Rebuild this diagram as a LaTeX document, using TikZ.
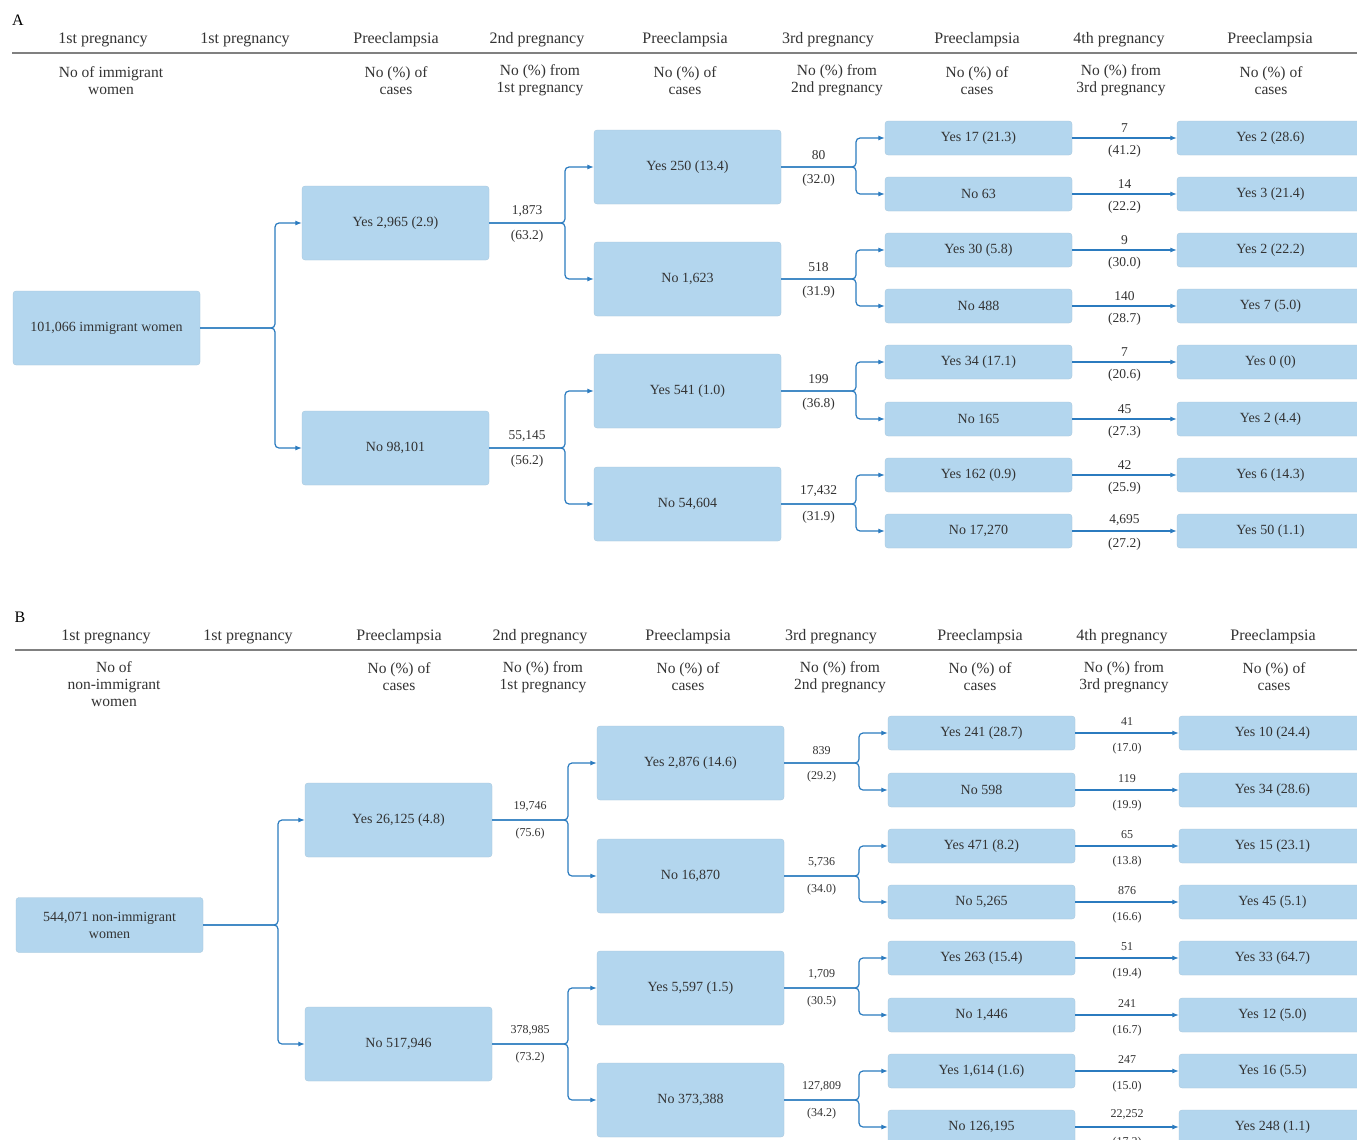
\documentclass[tikz,border=0pt]{standalone}
\usepackage{fontspec}
\setmainfont{Liberation Serif}
\usetikzlibrary{arrows.meta}
\definecolor{boxblue}{HTML}{B3D6EE}
\definecolor{lineblue}{HTML}{2B7BBF}
\definecolor{txtgray}{HTML}{333333}
\definecolor{rulegray}{HTML}{808080}
\tikzset{
  box/.style={fill=boxblue, draw=boxblue!92!black, line width=0.3pt, rounded corners=3pt, minimum width=187pt, minimum height=74pt, inner sep=0pt, align=center, text=txtgray, font=\fontsize{14}{17}\selectfont},
  slim/.style={box, minimum height=34pt},
  head/.style={text=txtgray, font=\fontsize{16}{18}\selectfont},
  sub/.style={text=txtgray, align=center, font=\fontsize{15.5}{17}\selectfont},
  num/.style={text=txtgray, inner sep=1pt, font=\fontsize{13.5}{15}\selectfont},
  numb/.style={num, font=\fontsize{12}{14}\selectfont},
  link/.style={draw=lineblue, line width=1.2pt, rounded corners=4pt, -{Latex[length=6.5pt,width=5pt]}},
}
\begin{document}
\begin{tikzpicture}[x=1pt, y=-1pt]
\useasboundingbox[fill=white] (0,0) rectangle (1357,1140);

% panel A
\node[font=\fontsize{16}{18}\selectfont] (lblA) at (18,20) {A};
\node[head] (hA1) at (103,40) {1st pregnancy};
\node[head] (hA2) at (245,40) {1st pregnancy};
\node[head] (hA3) at (396,40) {Preeclampsia};
\node[head] (hA4) at (537,40) {2nd pregnancy};
\node[head] (hA5) at (685,40) {Preeclampsia};
\node[head] (hA6) at (828,40) {3rd pregnancy};
\node[head] (hA7) at (977,40) {Preeclampsia};
\node[head] (hA8) at (1119,40) {4th pregnancy};
\node[head] (hA9) at (1270,40) {Preeclampsia};
\draw[rulegray, line width=1.2pt] (12,53) -- (1357,53);
\node[sub] (sA1) at (111,80.5) {No of immigrant\\women};
\node[sub] (sA3) at (396,80.5) {No (\%) of\\cases};
\node[sub] (sA4) at (540,80.5) {No (\%) from\\1st pregnancy};
\node[sub] (sA5) at (685,80.5) {No (\%) of\\cases};
\node[sub] (sA6) at (837,80.5) {No (\%) from\\2nd pregnancy};
\node[sub] (sA7) at (977,80.5) {No (\%) of\\cases};
\node[sub] (sA8) at (1121,80.5) {No (\%) from\\3rd pregnancy};
\node[sub] (sA9) at (1271,80.5) {No (\%) of\\cases};

\node[box] (a0) at (106.5,328) {101,066 immigrant women};
\node[box] (a1y) at (395.5,223) {Yes 2,965 (2.9)};
\node[box] (a1n) at (395.5,448) {No 98,101};
\node[box] (a2yy) at (687.5,167) {Yes 250 (13.4)};
\node[box] (a2yn) at (687.5,279) {No 1,623};
\node[box] (a2ny) at (687.5,391) {Yes 541 (1.0)};
\node[box] (a2nn) at (687.5,504) {No 54,604};

\coordinate (ja0) at (275,328);
\coordinate (ja1y) at (565,223);
\coordinate (ja1n) at (565,448);
\coordinate (ja2yy) at (856,167);
\coordinate (ja2yn) at (856,279);
\coordinate (ja2ny) at (856,391);
\coordinate (ja2nn) at (856,504);

\draw[link] (a0.east) -- (ja0) |- (a1y.west);
\draw[link] (a0.east) -- (ja0) |- (a1n.west);
\draw[link] (a1y.east) -- node[num,above=5pt]{1,873} node[num,below=6pt]{(63.2)} (ja1y) |- (a2yy.west);
\draw[link] (a1y.east) -- (ja1y) |- (a2yn.west);
\draw[link] (a1n.east) -- node[num,above=5pt]{55,145} node[num,below=6pt]{(56.2)} (ja1n) |- (a2ny.west);
\draw[link] (a1n.east) -- (ja1n) |- (a2nn.west);

\foreach \n/\yy/\lt/\ln/\lp/\rt in {
  1/138/{Yes 17 (21.3)}/7/{(41.2)}/{Yes 2 (28.6)},
  2/194/{No 63}/14/{(22.2)}/{Yes 3 (21.4)},
  3/250/{Yes 30 (5.8)}/9/{(30.0)}/{Yes 2 (22.2)},
  4/306/{No 488}/140/{(28.7)}/{Yes 7 (5.0)},
  5/362/{Yes 34 (17.1)}/7/{(20.6)}/{Yes 0 (0)},
  6/419/{No 165}/45/{(27.3)}/{Yes 2 (4.4)},
  7/475/{Yes 162 (0.9)}/42/{(25.9)}/{Yes 6 (14.3)},
  8/531/{No 17,270}/{4,695}/{(27.2)}/{Yes 50 (1.1)}}
{
  \node[slim] (a3\n) at (978.5,\yy) {\lt};
  \node[slim] (a4\n) at (1270.5,\yy) {\rt};
  \draw[link] (a3\n) -- node[num,above=4pt]{\ln} node[num,below=6pt]{\lp} (a4\n);
}

\draw[link] (a2yy.east) -- node[num,above=6pt]{80} node[num,below=6pt]{(32.0)} (ja2yy) |- (a31.west);
\draw[link] (a2yy.east) -- (ja2yy) |- (a32.west);
\draw[link] (a2yn.east) -- node[num,above=6pt]{518} node[num,below=6pt]{(31.9)} (ja2yn) |- (a33.west);
\draw[link] (a2yn.east) -- (ja2yn) |- (a34.west);
\draw[link] (a2ny.east) -- node[num,above=6pt]{199} node[num,below=6pt]{(36.8)} (ja2ny) |- (a35.west);
\draw[link] (a2ny.east) -- (ja2ny) |- (a36.west);
\draw[link] (a2nn.east) -- node[num,above=6pt]{17,432} node[num,below=6pt]{(31.9)} (ja2nn) |- (a37.west);
\draw[link] (a2nn.east) -- (ja2nn) |- (a38.west);

% panel B
\node[font=\fontsize{16}{18}\selectfont] (lblB) at (20,617) {B};
\node[head] (hB1) at (106,637) {1st pregnancy};
\node[head] (hB2) at (248,637) {1st pregnancy};
\node[head] (hB3) at (399,637) {Preeclampsia};
\node[head] (hB4) at (540,637) {2nd pregnancy};
\node[head] (hB5) at (688,637) {Preeclampsia};
\node[head] (hB6) at (831,637) {3rd pregnancy};
\node[head] (hB7) at (980,637) {Preeclampsia};
\node[head] (hB8) at (1122,637) {4th pregnancy};
\node[head] (hB9) at (1273,637) {Preeclampsia};
\draw[rulegray, line width=1.2pt] (15,650) -- (1357,650);
\node[sub] (sB1) at (114,684) {No of\\non-immigrant\\women};
\node[sub] (sB3) at (399,677) {No (\%) of\\cases};
\node[sub] (sB4) at (543,677) {No (\%) from\\1st pregnancy};
\node[sub] (sB5) at (688,677) {No (\%) of\\cases};
\node[sub] (sB6) at (840,677) {No (\%) from\\2nd pregnancy};
\node[sub] (sB7) at (980,677) {No (\%) of\\cases};
\node[sub] (sB8) at (1124,677) {No (\%) from\\3rd pregnancy};
\node[sub] (sB9) at (1274,677) {No (\%) of\\cases};

\node[box, minimum height=55pt] (b0) at (109.5,925) {544,071 non-immigrant\\women};
\node[box] (b1y) at (398.5,820) {Yes 26,125 (4.8)};
\node[box] (b1n) at (398.5,1044) {No 517,946};
\node[box] (b2yy) at (690.5,763) {Yes 2,876 (14.6)};
\node[box] (b2yn) at (690.5,876) {No 16,870};
\node[box] (b2ny) at (690.5,988) {Yes 5,597 (1.5)};
\node[box] (b2nn) at (690.5,1100) {No 373,388};

\coordinate (jb0) at (278,925);
\coordinate (jb1y) at (568,820);
\coordinate (jb1n) at (568,1044);
\coordinate (jb2yy) at (859,763);
\coordinate (jb2yn) at (859,876);
\coordinate (jb2ny) at (859,988);
\coordinate (jb2nn) at (859,1100);

\draw[link] (b0.east) -- (jb0) |- (b1y.west);
\draw[link] (b0.east) -- (jb0) |- (b1n.west);
\draw[link] (b1y.east) -- node[numb,above=7pt]{19,746} node[numb,below=7pt]{(75.6)} (jb1y) |- (b2yy.west);
\draw[link] (b1y.east) -- (jb1y) |- (b2yn.west);
\draw[link] (b1n.east) -- node[numb,above=7pt]{378,985} node[numb,below=7pt]{(73.2)} (jb1n) |- (b2ny.west);
\draw[link] (b1n.east) -- (jb1n) |- (b2nn.west);

\foreach \n/\yy/\lt/\ln/\lp/\rt in {
  1/733/{Yes 241 (28.7)}/41/{(17.0)}/{Yes 10 (24.4)},
  2/790/{No 598}/119/{(19.9)}/{Yes 34 (28.6)},
  3/846/{Yes 471 (8.2)}/65/{(13.8)}/{Yes 15 (23.1)},
  4/902/{No 5,265}/876/{(16.6)}/{Yes 45 (5.1)},
  5/958/{Yes 263 (15.4)}/51/{(19.4)}/{Yes 33 (64.7)},
  6/1015/{No 1,446}/241/{(16.7)}/{Yes 12 (5.0)},
  7/1071/{Yes 1,614 (1.6)}/247/{(15.0)}/{Yes 16 (5.5)},
  8/1127/{No 126,195}/{22,252}/{(17.2)}/{Yes 248 (1.1)}}
{
  \node[slim] (b3\n) at (981.5,\yy) {\lt};
  \node[slim] (b4\n) at (1272.5,\yy) {\rt};
  \draw[link] (b3\n) -- node[numb,above=6pt]{\ln} node[numb,below=9pt]{\lp} (b4\n);
}

\draw[link] (b2yy.east) -- node[numb,above=7pt]{839} node[numb,below=7pt]{(29.2)} (jb2yy) |- (b31.west);
\draw[link] (b2yy.east) -- (jb2yy) |- (b32.west);
\draw[link] (b2yn.east) -- node[numb,above=7pt]{5,736} node[numb,below=7pt]{(34.0)} (jb2yn) |- (b33.west);
\draw[link] (b2yn.east) -- (jb2yn) |- (b34.west);
\draw[link] (b2ny.east) -- node[numb,above=7pt]{1,709} node[numb,below=7pt]{(30.5)} (jb2ny) |- (b35.west);
\draw[link] (b2ny.east) -- (jb2ny) |- (b36.west);
\draw[link] (b2nn.east) -- node[numb,above=7pt]{127,809} node[numb,below=7pt]{(34.2)} (jb2nn) |- (b37.west);
\draw[link] (b2nn.east) -- (jb2nn) |- (b38.west);

\end{tikzpicture}
\end{document}
